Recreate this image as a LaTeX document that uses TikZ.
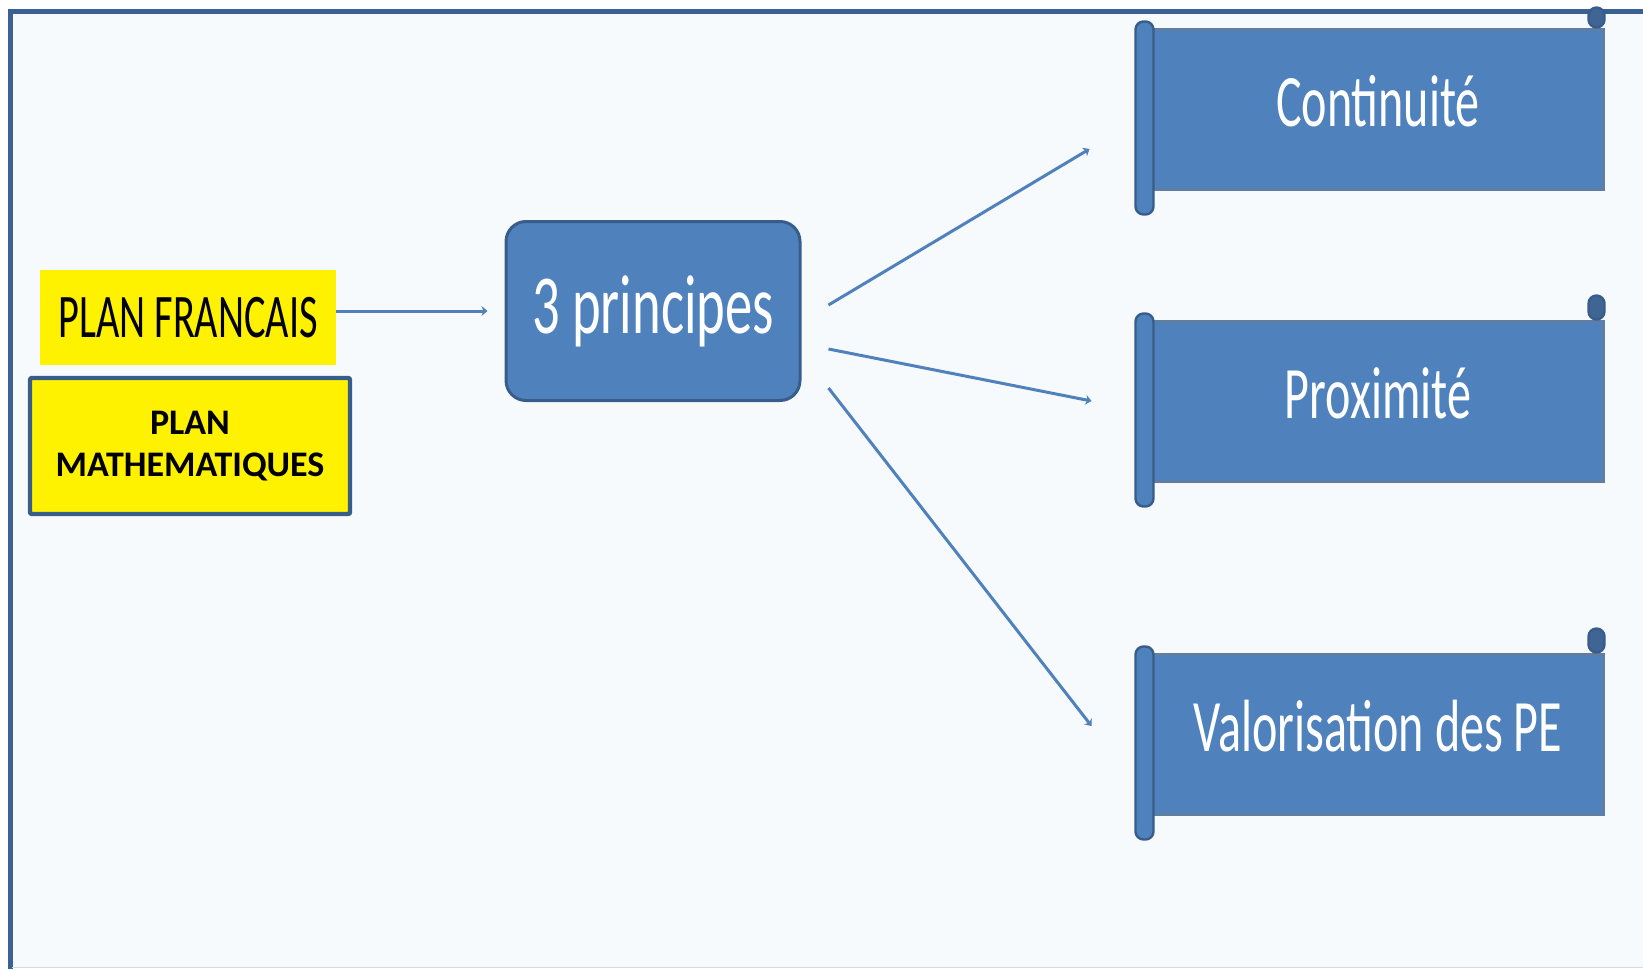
\documentclass[tikz,border=0pt]{standalone}
\usepackage{fontspec}
\setmainfont{Carlito}
\newfontfamily\narrowfont[FakeStretch=0.65]{Carlito}
\usetikzlibrary{arrows.meta}
\definecolor{pagebg}{HTML}{F7FAFD}
\definecolor{framecol}{HTML}{3B6192}
\definecolor{boxblue}{HTML}{4F81BD}
\definecolor{boxedge}{HTML}{385D8A}
\definecolor{scrolledge}{HTML}{5F7EA3}
\definecolor{curlcol}{HTML}{3F6595}

\begin{document}
\begin{tikzpicture}[x=0.5pt,y=-0.5pt,
		link/.style={boxblue,line width=1.5pt,-{Stealth[length=3pt,width=5pt]}},
		scrollbox/.style={fill=boxblue,draw=scrolledge,line width=1.5pt,minimum width=225pt,minimum height=80pt,text=white,text height=24pt,text depth=7pt,font=\narrowfont\fontsize{37}{44}\selectfont},
		roll/.style={fill=boxblue,draw=boxedge,line width=1.2pt,rounded corners=4pt},
		curl/.style={fill=curlcol,draw=boxedge,line width=1.2pt,rounded corners=4pt}]
	\useasboundingbox (0,0) rectangle (1643,969);
	\fill[pagebg] (10,11) rectangle (1643,967);
	\draw[framecol,line width=2.5pt] (10,969) -- (10,11) -- (1643,11);
	\draw[gray!30,line width=0.8pt] (12,967.5) -- (1643,967.5);
	% left side
	\node[fill=yellow,minimum width=148pt,minimum height=47.5pt,inner sep=0pt,font=\narrowfont\fontsize{31}{37}\selectfont] (fr) at (188,317.5) {PLAN FRANCAIS};
	\node[fill=yellow,draw=boxedge,line width=2.2pt,rounded corners=1pt,minimum width=160pt,minimum height=68pt,align=center,font=\bfseries\fontsize{18}{21}\selectfont] (math) at (190,446) {PLAN\\MATHEMATIQUES};
	\node[fill=boxblue,draw=boxedge,line width=1.5pt,rounded corners=10pt,minimum width=147pt,minimum height=89.5pt,text=white,font=\narrowfont\fontsize{42}{50}\selectfont] (prin) at (653,311) {3 principes};
	% scrolls
	\node[scrollbox] (cont) at (1378,109) {Continuité};
	\node[scrollbox] (prox) at (1378,401) {Proximité};
	\node[scrollbox] (val) at (1378,734) {Valorisation des PE};
	\draw[roll] ([xshift=-8pt,yshift=3pt]cont.north west) rectangle ([xshift=1pt,yshift=-12pt]cont.south west);
	\draw[curl] ([xshift=-8pt,yshift=10pt]cont.north east) rectangle (cont.north east);
	\draw[roll] ([xshift=-8pt,yshift=3pt]prox.north west) rectangle ([xshift=1pt,yshift=-12pt]prox.south west);
	\draw[curl] ([xshift=-8pt,yshift=12pt]prox.north east) rectangle (prox.north east);
	\draw[roll] ([xshift=-8pt,yshift=3pt]val.north west) rectangle ([xshift=1pt,yshift=-12pt]val.south west);
	\draw[curl] ([xshift=-8pt,yshift=12pt]val.north east) rectangle (val.north east);
	% arrows
	\draw[link] ([yshift=3.25pt]fr.east) -- ([xshift=-8.5pt]prin.west);
	\draw[link] ([xshift=13.5pt,yshift=3pt]prin.east) -- ([xshift=-31pt,yshift=-20pt]cont.west);
	\draw[link] ([xshift=13.5pt,yshift=-19pt]prin.east) -- ([xshift=-30pt]prox.west);
	\draw[link] ([xshift=13.5pt,yshift=-38.5pt]prin.east) -- ([xshift=-30pt,yshift=4pt]val.west);
\end{tikzpicture}
\end{document}
